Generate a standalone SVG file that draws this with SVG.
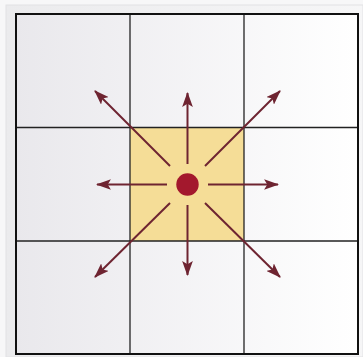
<svg xmlns="http://www.w3.org/2000/svg" width="363" height="357" viewBox="0 0 363 357">
<defs>
<linearGradient id="bg" x1="0" y1="0" x2="1" y2="0">
<stop offset="0" stop-color="#e9e8ec"/>
<stop offset="1" stop-color="#ffffff"/>
</linearGradient>
<linearGradient id="panel" x1="0" y1="0" x2="1" y2="0">
<stop offset="0" stop-color="#ebebed"/>
<stop offset="1" stop-color="#f6f6f7"/>
</linearGradient>
<marker id="ah" viewBox="0 0 14 10" refX="13" refY="5" markerWidth="7.5" markerHeight="5.5" markerUnits="strokeWidth" orient="auto">
<path d="M0,0 L14,5 L0,10 L3,5 Z" fill="#6e2431"/>
</marker>
<style>
.grid{fill:none;stroke:#222;stroke-width:1.3}
.arr{stroke:#6e2431;stroke-width:2;fill:none;marker-end:url(#ah)}
</style>
</defs>
<rect x="0" y="0" width="363" height="357" fill="#f7f7f8"/>
<rect x="6" y="5" width="357" height="352" fill="url(#panel)" stroke="#e2e2e4" stroke-width="1"/>
<g id="grid">
<rect x="16" y="14" width="342" height="340" fill="url(#bg)"/>
<rect id="center-cell" x="130" y="127.5" width="114" height="113.5" fill="#f5dd97"/>
<line class="grid" x1="130" y1="14" x2="130" y2="354"/>
<line class="grid" x1="244" y1="14" x2="244" y2="354"/>
<line class="grid" x1="16" y1="127.5" x2="358" y2="127.5"/>
<line class="grid" x1="16" y1="241" x2="358" y2="241"/>
<rect x="16" y="14" width="342" height="340" fill="none" stroke="#111" stroke-width="2"/>
</g>
<g id="connectors">
<line class="arr" x1="187.5" y1="164" x2="187.5" y2="93"/>
<line class="arr" x1="187.5" y1="205" x2="187.5" y2="275"/>
<line class="arr" x1="167" y1="184.5" x2="97" y2="184.5"/>
<line class="arr" x1="208" y1="184.5" x2="278" y2="184.5"/>
<line class="arr" x1="170" y1="166" x2="95" y2="91"/>
<line class="arr" x1="205" y1="166" x2="280" y2="91"/>
<line class="arr" x1="170" y1="203" x2="95" y2="277"/>
<line class="arr" x1="205" y1="203" x2="280" y2="277"/>
</g>
<g id="center-dot">
<circle cx="187.5" cy="184.5" r="11.2" fill="#a3182d"/>
</g>
</svg>
